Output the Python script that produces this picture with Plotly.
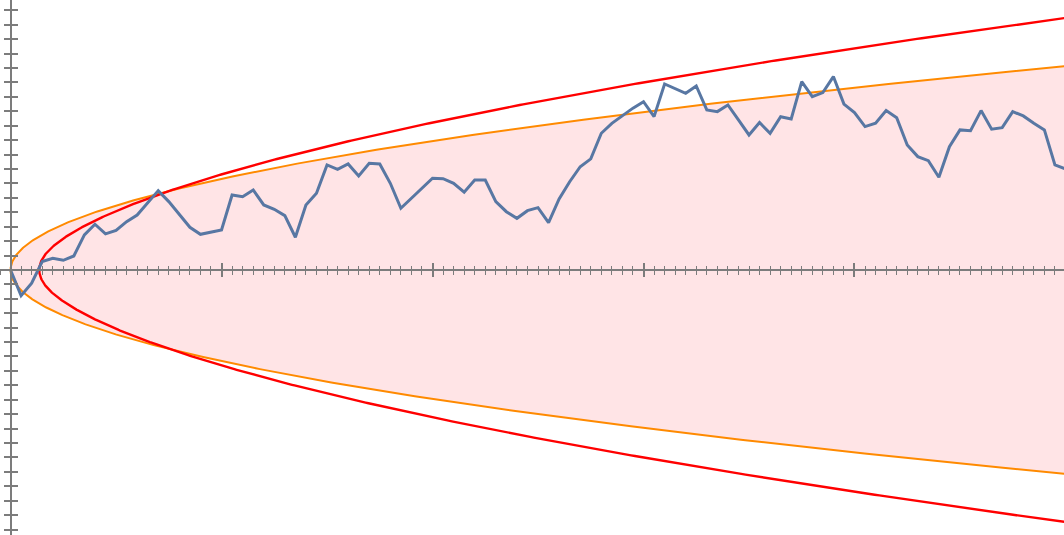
import numpy as np
import plotly.graph_objects as go

# random walk, one value per step (steps 0..100)
walk = [
    0.00, -1.78, -0.92, 0.58, 0.81, 0.67, 0.97, 2.43, 3.17, 2.50,
    2.75, 3.35, 3.81, 4.62, 5.50, 4.74, 3.88, 2.96, 2.47, 2.63,
    2.77, 5.20, 5.08, 5.55, 4.51, 4.21, 3.77, 2.27, 4.51, 5.32,
    7.28, 6.98, 7.35, 6.52, 7.40, 7.35, 6.01, 4.28, 4.97, 5.60,
    6.36, 6.33, 6.01, 5.39, 6.24, 6.24, 4.74, 4.04, 3.58, 4.11,
    4.32, 3.28, 4.92, 6.12, 7.16, 7.70, 9.48, 10.17, 10.72, 11.22,
    11.67, 10.63, 12.90, 12.60, 12.25, 12.76, 11.10, 10.98, 11.44, 10.40,
    9.36, 10.22, 9.48, 10.63, 10.47, 13.06, 12.02, 12.30, 13.41, 11.50,
    10.92, 9.94, 10.17, 11.05, 10.56, 8.67, 7.86, 7.58, 6.43, 8.55,
    9.71, 9.66, 11.05, 9.76, 9.87, 10.98, 10.68, 10.17, 9.71, 7.28,
    7.00,
]
steps = list(range(len(walk)))

x_range = [-1.0, 99.86]
y_range = [-18.38, 18.72]

# envelopes: sqrt(2 t) and the iterated-log bound sqrt(2 t log log t)
t_end = 100
s = np.linspace(0, 1, 400)
t_sq = t_end * s**2
sq = np.sqrt(2 * t_sq)
t_lil = np.e + (t_end - np.e) * s**2
lil = np.sqrt(2 * t_lil * np.log(np.log(t_lil)))

fig = go.Figure()

fig.add_trace(go.Scatter(
    x=np.concatenate([t_sq[::-1], t_sq]),
    y=np.concatenate([sq[::-1], -sq]),
    mode='lines',
    fill='toself',
    fillcolor='#ffe4e6',
    line={'color': '#ff8a00', 'width': 2},
    hoverinfo='skip'
))

fig.add_trace(go.Scatter(
    x=np.concatenate([t_lil[::-1], t_lil]),
    y=np.concatenate([lil[::-1], -lil]),
    mode='lines',
    line={'color': '#ff0000', 'width': 2.4},
    hoverinfo='skip'
))

fig.add_trace(go.Scatter(
    x=steps,
    y=walk,
    mode='lines',
    line={'color': '#5877a3', 'width': 3}
))

# dummy trace so the second (inside-tick) pair of axes is drawn
fig.add_trace(go.Scatter(
    x=[None], y=[None], xaxis='x2', yaxis='y2', hoverinfo='skip'
))

x_pos = (0 - x_range[0]) / (x_range[1] - x_range[0])
y_pos = (0 - y_range[0]) / (y_range[1] - y_range[0])

axis_col = '#7c7c7c'


def x_axis(direction, line):
    return dict(
        range=x_range, anchor='free', position=y_pos,
        showgrid=False, zeroline=False, showticklabels=False,
        showline=line, linecolor=axis_col, linewidth=1.6,
        ticks=direction, tick0=0, dtick=20, ticklen=6.5,
        tickcolor=axis_col, tickwidth=1.5,
        minor=dict(ticks=direction, dtick=1, ticklen=4,
                   tickcolor=axis_col, tickwidth=1.4, showgrid=False),
        fixedrange=True
    )


def y_axis(direction, line):
    return dict(
        range=y_range, anchor='free', position=x_pos,
        showgrid=False, zeroline=False, showticklabels=False,
        showline=line, linecolor=axis_col, linewidth=1.6,
        ticks=direction, tick0=0, dtick=1, ticklen=6,
        tickcolor=axis_col, tickwidth=1.5,
        fixedrange=True
    )


fig.update_layout(
    width=1064,
    height=535,
    margin=dict(l=0, r=0, t=0, b=0),
    paper_bgcolor='white',
    plot_bgcolor='white',
    showlegend=False,
    xaxis=x_axis('outside', True),
    yaxis=y_axis('outside', True),
    xaxis2={**x_axis('inside', False), 'overlaying': 'x'},
    yaxis2={**y_axis('inside', False), 'overlaying': 'y'},
)

fig.write_html(
    "out.html",
    config={'displayModeBar': False},
    post_script="document.body.style.margin='0';document.body.style.overflow='hidden';"
)
